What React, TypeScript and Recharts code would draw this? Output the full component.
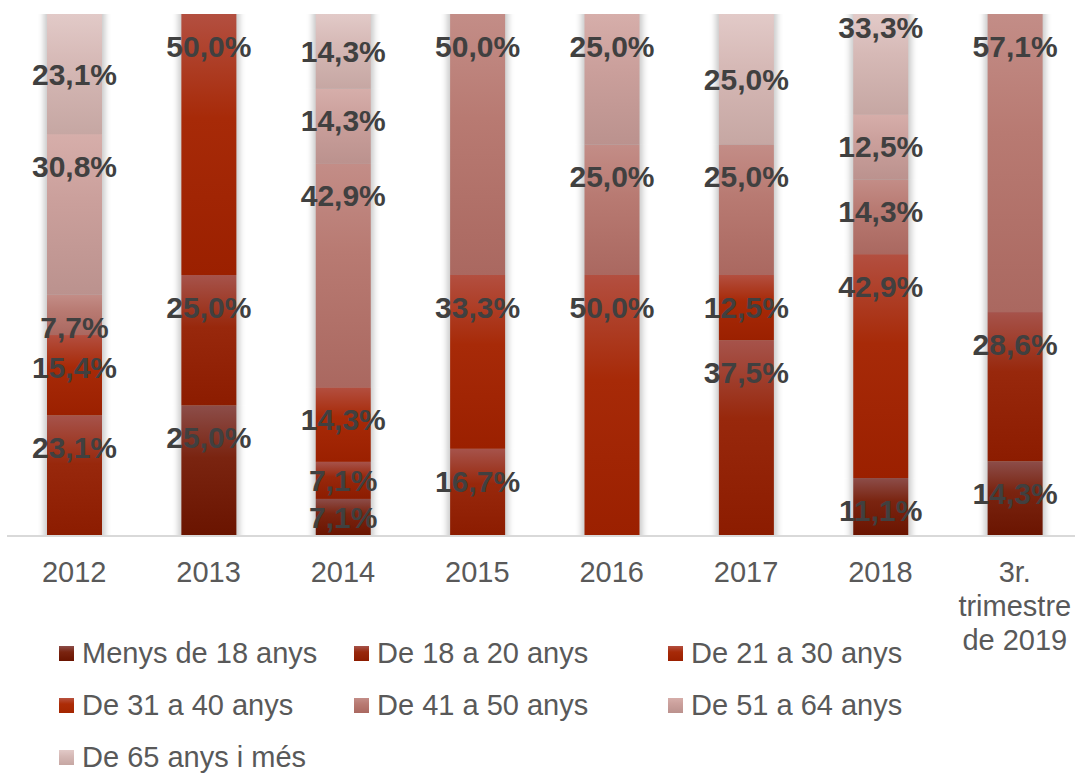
import { BarChart, Bar, XAxis, YAxis, LabelList, Legend } from "recharts";

const FONT = '"Liberation Sans", Arial, sans-serif';

// categories (x axis)
const categories = [
  "2012",
  "2013",
  "2014",
  "2015",
  "2016",
  "2017",
  "2018",
  "3r. trimestre de 2019",
];

// tick text, split into the lines shown under each bar
const tickLines = [
  ["2012"],
  ["2013"],
  ["2014"],
  ["2015"],
  ["2016"],
  ["2017"],
  ["2018"],
  ["3r.", "trimestre", "de 2019"],
];

// % per age group, one value per category
const menys18 = [0, 25.0, 7.1, 0, 0, 0, 11.1, 14.3];
const de18a20 = [23.1, 25.0, 7.1, 16.7, 0, 37.5, 0, 28.6];
const de21a30 = [15.4, 50.0, 14.3, 33.3, 50.0, 12.5, 42.9, 0];
const de31a40 = [0, 0, 0, 0, 0, 0, 0, 0];
const de41a50 = [7.7, 0, 42.9, 50.0, 25.0, 25.0, 14.3, 57.1];
const de51a64 = [30.8, 0, 14.3, 0, 25.0, 0, 12.5, 0];
const de65 = [23.1, 0, 14.3, 0, 0, 25.0, 33.3, 0];

const seriesNames = [
  "Menys de 18 anys",
  "De 18 a 20 anys",
  "De 21 a 30 anys",
  "De 31 a 40 anys",
  "De 41 a 50 anys",
  "De 51 a 64 anys",
  "De 65 anys i més",
];

const seriesValues = [menys18, de18a20, de21a30, de31a40, de41a50, de51a64, de65];

// gradient stops, top -> middle -> bottom
const gradients = [
  ["#8c4d49", "#7a2410", "#6a1400"],
  ["#a6534b", "#98280c", "#8c1c00"],
  ["#b34f40", "#a72a08", "#9b2000"],
  ["#b8523f", "#ad2c06", "#a42600"],
  ["#c38d87", "#b87a72", "#aa6860"],
  ["#d6aeaa", "#cba09c", "#bb928e"],
  ["#e2cac8", "#d6b9b6", "#c6a7a3"],
];

const CHART_H = 774;
const MARGIN_TOP = 14;
const AXIS_H = 238;
const PLOT_H = CHART_H - MARGIN_TOP - AXIS_H;

const chartData = categories.map((category, i) => {
  const row: Record<string, string | number> = { category };
  seriesNames.forEach((name, s) => {
    row[name] = seriesValues[s][i];
  });
  return row;
});

const formatPct = (v: number) => v.toFixed(1).replace(".", ",") + "%";

function SideShadowRect(props: any) {
  const { x, y, width, height, fill } = props;
  if (!height || height <= 0) return null;
  return (
    <g>
      <rect
        x={x - 3}
        y={y}
        width={width + 6}
        height={height}
        fill="#000"
        opacity={0.22}
        filter="url(#sideBlur)"
      />
      <rect x={x} y={y} width={width} height={height} fill={fill} />
    </g>
  );
}

function makeLabel(centered: boolean) {
  return (props: any) => {
    const { x, y, width, height, value } = props;
    if (!value) return null;
    const v = Number(value);
    let cy: number;
    if (centered) {
      // centre of the full (possibly clipped) segment
      const full = (v / 100) * PLOT_H;
      cy = y + height - full / 2;
    } else {
      cy = height < 38 ? y + height / 2 : y + 32;
    }
    return (
      <text
        x={x + width / 2}
        y={cy}
        dy="0.36em"
        textAnchor="middle"
        fontFamily={FONT}
        fontSize={30}
        fontWeight="bold"
        fill="#404040"
      >
        {formatPct(v)}
      </text>
    );
  };
}

function CategoryTick(props: any) {
  const { x, y, payload } = props;
  const lines = tickLines[categories.indexOf(payload.value)] ?? [payload.value];
  return (
    <text
      x={x}
      y={y + 38}
      textAnchor="middle"
      fontSize={29}
      fontFamily={FONT}
      fill="#595959"
    >
      {lines.map((line, i) => (
        <tspan key={i} x={x} dy={i === 0 ? 0 : 34}>
          {line}
        </tspan>
      ))}
    </text>
  );
}

function AgeLegend(props: any) {
  const items = [...(props.payload ?? [])].sort(
    (a: any, b: any) => seriesNames.indexOf(a.value) - seriesNames.indexOf(b.value),
  );
  return (
    <div
      style={{
        display: "grid",
        gridTemplateColumns: "295px 314px 320px",
        paddingLeft: 59,
      }}
    >
      {items.map((item: any) => (
        <div
          key={item.value}
          style={{ display: "flex", alignItems: "center", height: 52 }}
        >
          <svg width={15} height={15} style={{ marginRight: 8, flex: "none" }}>
            <rect width={15} height={15} fill={item.color} />
          </svg>
          <span
            style={{
              fontSize: 29,
              color: "#595959",
              fontFamily: FONT,
              whiteSpace: "nowrap",
            }}
          >
            {item.value}
          </span>
        </div>
      ))}
    </div>
  );
}

export default function App() {
  return (
    <div
      style={{
        position: "absolute",
        left: 0,
        top: 0,
        width: 1075,
        height: 774,
        overflow: "hidden",
        background: "#fff",
      }}
    >
      <BarChart
        width={1082}
        height={CHART_H}
        data={chartData}
        margin={{ top: MARGIN_TOP, right: 0, left: 7, bottom: 0 }}
      >
        <defs>
          <filter id="sideBlur" x="-50%" y="0%" width="200%" height="100%">
            <feGaussianBlur stdDeviation="3 0" />
          </filter>
          {gradients.map((stops, s) => (
            <linearGradient key={s} id={`grad${s}`} x1="0" y1="0" x2="0" y2="1">
              <stop offset="0%" stopColor={stops[0]} />
              <stop offset="40%" stopColor={stops[1]} />
              <stop offset="100%" stopColor={stops[2]} />
            </linearGradient>
          ))}
        </defs>
        <XAxis
          dataKey="category"
          interval={0}
          tickLine={false}
          axisLine={{ stroke: "#d9d9d9", strokeWidth: 2 }}
          height={AXIS_H}
          tick={<CategoryTick />}
        />
        <YAxis hide domain={[0, 100]} allowDataOverflow />
        <Legend
          layout="horizontal"
          verticalAlign="middle"
          align="center"
          wrapperStyle={{ top: 627, left: 0, width: 1075 }}
          content={<AgeLegend />}
        />
        {seriesNames.map((name, s) => (
          <Bar
            key={name}
            dataKey={name}
            name={name}
            stackId="age"
            barSize={55}
            fill={`url(#grad${s})`}
            shape={<SideShadowRect />}
            isAnimationActive={false}
          >
            <LabelList
              dataKey={name}
              content={makeLabel(s === seriesNames.length - 1)}
            />
          </Bar>
        ))}
      </BarChart>
    </div>
  );
}
